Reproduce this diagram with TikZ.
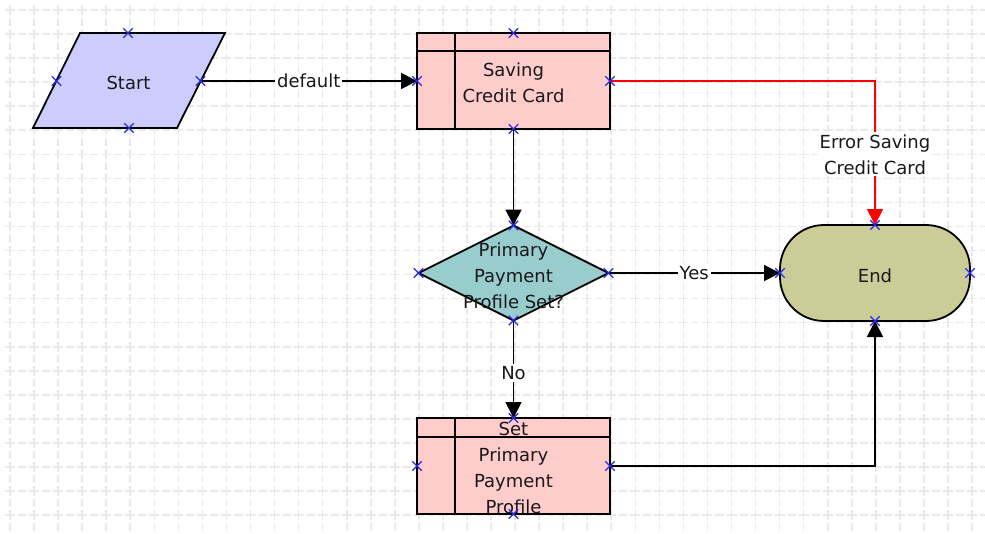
\documentclass[tikz,border=0pt]{standalone}
\usepackage{fontspec}
\setmainfont{DejaVu Sans}
\usetikzlibrary{arrows.meta,shapes.misc,shapes.geometric,calc}
\definecolor{startfill}{RGB}{204,204,255}
\definecolor{procfill}{RGB}{255,204,204}
\definecolor{decfill}{RGB}{153,204,204}
\definecolor{endfill}{RGB}{204,204,153}
\definecolor{gridc}{RGB}{234,234,234}
\definecolor{mkblue}{RGB}{40,40,230}
\definecolor{txtc}{RGB}{25,25,25}
\begin{document}
\begin{tikzpicture}[x=1pt,y=-1pt,
  every node/.style={font=\fontsize{18}{26}\selectfont, text=txtc},
  gridline/.style={draw=gridc, line width=1.6pt, dash pattern=on 10pt off 3pt on 8.05pt off 3pt},
  shapeline/.style={draw=black, line width=1.8pt},
  procbox/.style={shapeline, fill=procfill, rectangle, minimum width=193pt, minimum height=96pt, inner sep=0pt, outer sep=0pt},
  decbox/.style={shapeline, fill=decfill, diamond, minimum width=190pt, minimum height=95pt, inner sep=0pt, outer sep=0pt},
  endbox/.style={shapeline, fill=endfill, rectangle, rounded corners=44pt, minimum width=190pt, minimum height=96pt, inner sep=0pt, outer sep=0pt},
  txt/.style={align=center, inner sep=0pt},
  conn/.style={line width=1.8pt, -{Triangle[length=16pt,width=16pt]}},
  lbl/.style={fill=white, inner sep=2pt, align=center, text=txtc},
  mk/.style={cross out, draw=mkblue, line width=1.3pt, minimum size=8pt, inner sep=0pt}
]
\useasboundingbox (0,0) rectangle (985,533);
\fill[white] (0,0) rectangle (985,533);
% grid
\foreach \i in {0,...,40} \draw[gridline] ({10+24.05*\i},5) -- ({10+24.05*\i},533);
\foreach \j in {0,...,21} \draw[gridline] (5,{10+24.05*\j}) -- (985,{10+24.05*\j});

% Start parallelogram
\filldraw[shapeline, fill=startfill] (80,33) -- (225,33) -- (177,128) -- (33,128) -- cycle;
\node[txt] (start) at (128.5,82.5) {Start};
\coordinate (startR) at (200.5,81);
\coordinate (startL) at (56.5,81);
\coordinate (startT) at (128,33);
\coordinate (startB) at (129,128);

% Saving Credit Card
\node[procbox] (saving) at (513.5,81) {};
\draw[shapeline] (455,33) -- (455,129);
\draw[shapeline] (417,51) -- (610,51);
\node[txt] (savingT) at (513.5,82.5) {Saving\\Credit Card};

% Decision
\node[decbox] (dec) at (513.5,273) {};
\node[txt] (decT) at (513.5,276) {Primary\\Payment\\Profile Set?};

% Set Primary Payment Profile
\node[procbox] (setp) at (513.5,466) {};
\draw[shapeline] (455,418) -- (455,514);
\draw[shapeline] (417,437) -- (610,437);
\node[txt] (setpT) at (513.5,467.5) {Set\\Primary\\Payment\\Profile};

% End
\node[endbox] (end) at (875,273) {};
\node[txt] (endT) at (875,276) {End};

% connectors
\draw[conn] (startR) -- node[lbl] (l1) {default} (saving.west);
\draw[conn] (saving.south) -- (dec.north);
\draw[conn] (dec.east) -- node[lbl] (l2) {Yes} (end.west);
\draw[conn] (dec.south) -- node[lbl, pos=0.54] (l3) {No} (setp.north);
\draw[conn] (setp.east) -| (end.south);
\draw[conn, draw=red] (saving.east) -| node[lbl, pos=0.755] (l4) {Error Saving\\Credit Card} (end.north);

% markers
\foreach \p in {startR,startL,startT,startB} \node[mk] (mk-\p) at (\p) {};
\foreach \n in {saving,dec,setp,end}
  \foreach \a in {north,south,east,west}
    \node[mk] (mk-\n-\a) at (\n.\a) {};
\end{tikzpicture}
\end{document}
